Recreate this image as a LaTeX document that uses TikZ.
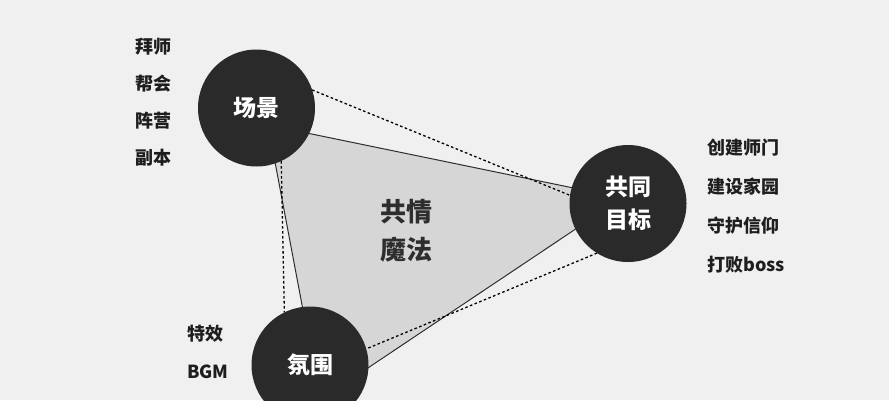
\documentclass[tikz,border=0pt]{standalone}
\usepackage{fontspec}
\setmainfont{Noto Sans CJK SC}
\usepackage{tikz}
\usetikzlibrary{calc}
\definecolor{backgray}{HTML}{F0F0F0}
\definecolor{hubgray}{HTML}{2A2A2A}
\definecolor{plategray}{HTML}{D6D6D6}
\definecolor{linegray}{HTML}{2E2E2E}
\definecolor{tagblack}{HTML}{1E1E1E}
\tikzset{
    hub/.style={circle, fill=hubgray, text=white, minimum size=117pt, inner sep=0pt, outer sep=0pt, align=center, font=\fontsize{23}{33}\selectfont\bfseries},
    tag/.style={anchor=west, inner sep=0pt, text=tagblack, font=\fontsize{18}{20}\selectfont\bfseries},
    plate/.style={fill=plategray, draw=linegray, line width=1pt},
    link/.style={draw=black, line width=1.3pt, dash pattern=on 2.6pt off 2.4pt}
}

\begin{document}
\begin{tikzpicture}[x=1pt, y=-1pt]
            \fill[backgray] (0,0) rectangle (889,400);
            \useasboundingbox (0,0) rectangle (889,400);

            % triangle behind the circles
            \coordinate (ta) at (268,125);
            \coordinate (tb) at (622,198);
            \coordinate (tc) at (320,400);
            \filldraw[plate] (ta) -- (tb) -- (tc) -- cycle;
            \node[align=center, text=linegray, font=\fontsize{26}{38}\selectfont\bfseries] (magic) at (406,231) {共情\\魔法};

            \node[hub] (scene) at (256.5,108) {场景};
            \node[hub] (goal) at (628,203.5) {共同\\目标};
            \node[hub] (mood) at (310,365) {氛围};

            \path[link] (scene.18) -- (goal.172.6);
            \path[link] (scene.-65) -- (mood.116);
            \path[link] (goal.238) -- (mood.16);

            \node[tag] (master) at (135,47) {拜师};
            \node[tag] (guild) at (135,84) {帮会};
            \node[tag] (camp) at (135,121) {阵营};
            \node[tag] (dungeon) at (135,158) {副本};

            \node[tag] (sect) at (707,148) {创建师门};
            \node[tag] (home) at (707,187) {建设家园};
            \node[tag] (faith) at (707,226) {守护信仰};
            \node[tag] (boss) at (707,265) {打败boss};

            \node[tag] (effect) at (187,334) {特效};
            \node[tag] (bgm) at (187,372) {BGM};
        \end{tikzpicture}
\end{document}
